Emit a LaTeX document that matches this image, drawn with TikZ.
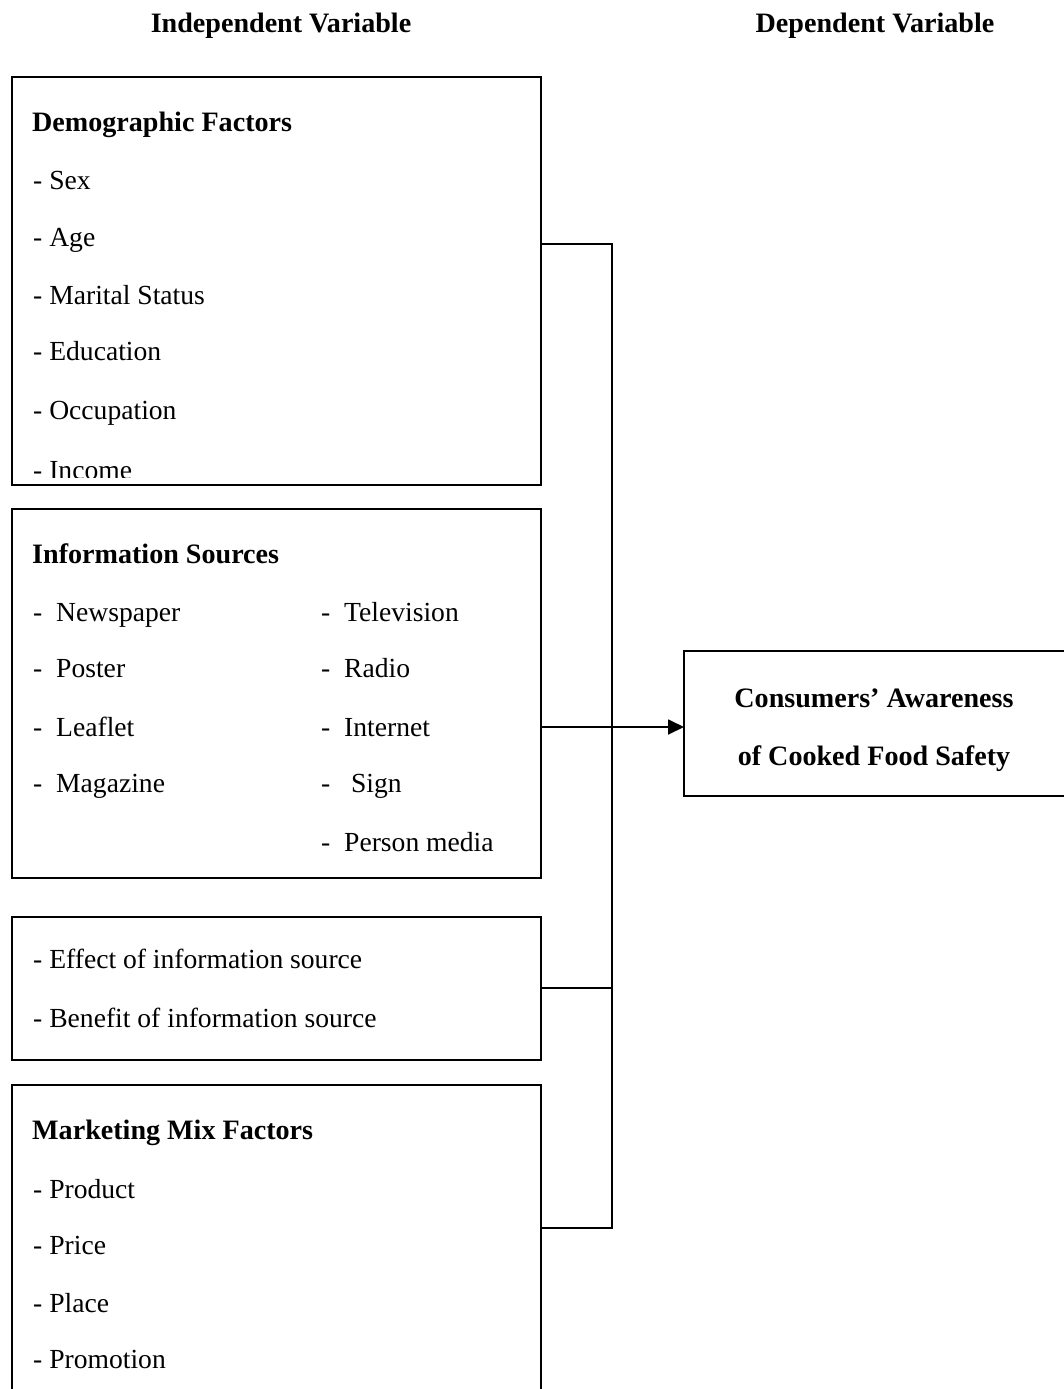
\documentclass[tikz,border=0pt]{standalone}
\usepackage{fontspec}
\setmainfont{Liberation Serif}
\usetikzlibrary{arrows.meta}
\begin{document}
\begin{tikzpicture}[x=1pt,y=-1pt,
  lbl/.style={anchor=base west,inner sep=0pt,font=\fontsize{27.6}{33}\selectfont},
  hd/.style={anchor=base west,inner sep=0pt,font=\fontsize{28.1}{33}\selectfont\bfseries},
  ctr/.style={anchor=base,inner sep=0pt,font=\fontsize{28.1}{33}\selectfont\bfseries},
  box/.style={draw,line width=1.8pt,anchor=north west,inner sep=0pt,outer sep=0pt},
  conn/.style={line width=1.8pt}]
\useasboundingbox (0,0) rectangle (1064,1389);

% headers
\node[ctr] (hind) at (281,33) {Independent Variable};
\node[ctr] (hdep) at (875,33) {Dependent Variable};

% box 1
\node[box,minimum width=529pt,minimum height=408pt] (b1) at (12,77) {};
\node[hd] (d0) at (32,131) {Demographic Factors};
\node[lbl] (d1) at (33,189) {- Sex};
\node[lbl] (d2) at (33,246) {- Age};
\node[lbl] (d3) at (33,304) {- Marital Status};
\node[lbl] (d4) at (33,360) {- Education};
\node[lbl] (d5) at (33,419) {- Occupation};
\begin{scope}
  \clip (13,400) rectangle (540,477);
  \node[lbl] (d6) at (33,479) {- Income};
\end{scope}

% box 2
\node[box,minimum width=529pt,minimum height=369pt] (b2) at (12,509) {};
\node[hd] (i0) at (32,563) {Information Sources};
\node[lbl] (i1) at (33,621) {-\ \ Newspaper};
\node[lbl] (i2) at (33,677) {-\ \ Poster};
\node[lbl] (i3) at (33,736) {-\ \ Leaflet};
\node[lbl] (i4) at (33,792) {-\ \ Magazine};
\node[lbl] (i5) at (321,621) {-\ \ Television};
\node[lbl] (i6) at (321,677) {-\ \ Radio};
\node[lbl] (i7) at (321,736) {-\ \ Internet};
\node[lbl] (i8) at (321,792) {-\ \ \ Sign};
\node[lbl] (i9) at (321,851) {-\ \ Person media};

% box 3
\node[box,minimum width=529pt,minimum height=143pt] (b3) at (12,917) {};
\node[lbl] (e1) at (33,968) {- Effect of information source};
\node[lbl] (e2) at (33,1027) {- Benefit of information source};

% box 4 (open at the bottom)
\coordinate (b4nw) at (12,1085);
\coordinate (b4ne) at (541,1085);
\draw[conn] (12,1389) -- (b4nw) -- (b4ne) -- (541,1389);
\node[hd] (m0) at (32,1139) {Marketing Mix Factors};
\node[lbl] (m1) at (33,1198) {- Product};
\node[lbl] (m2) at (33,1254) {- Price};
\node[lbl] (m3) at (33,1312) {- Place};
\node[lbl] (m4) at (33,1368) {- Promotion};

% dependent box (open at the right)
\coordinate (tw) at (684,727);
\draw[conn] (1064,651) -- (684,651) -- (684,796) -- (1064,796);
\node[ctr] (c1) at (874,707) {Consumers’ Awareness};
\node[ctr] (c2) at (874,765) {of Cooked Food Safety};

% connectors
\coordinate (j1) at (612,244);
\coordinate (j3) at (612,988);
\coordinate (j4) at (612,1228);
\draw[conn] (b1.east |- j1) -- (j1) -- (j4) -- (b4ne |- j4);
\draw[conn] (b3.east |- j3) -- (j3);
\draw[conn,-{Triangle[length=16pt,width=15pt]}] (b2.east |- tw) -- (tw);
\end{tikzpicture}
\end{document}
